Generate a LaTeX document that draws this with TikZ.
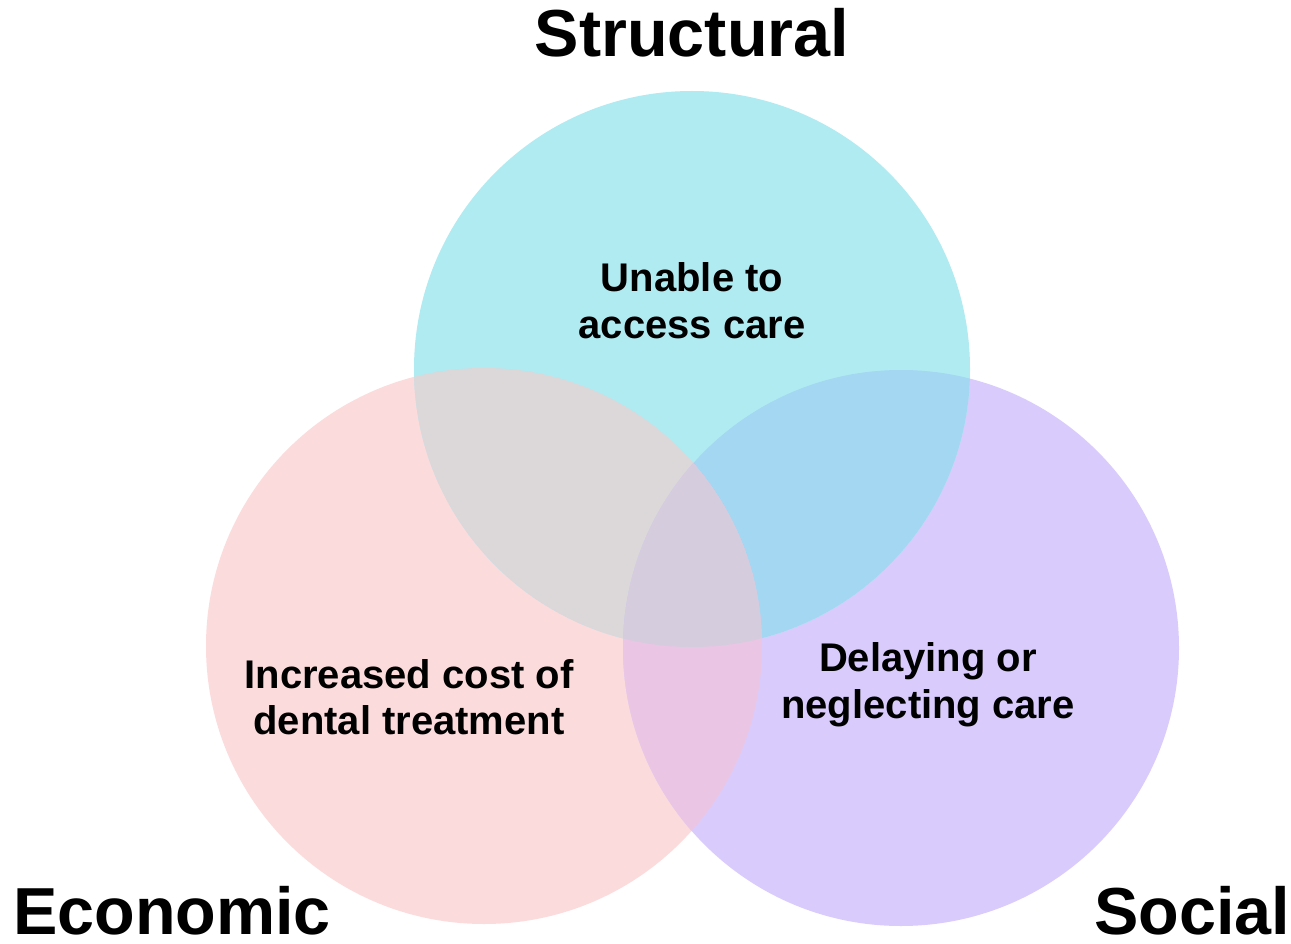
\documentclass[tikz,border=0pt]{standalone}
\usepackage{fontspec}
\setmainfont{Liberation Sans}
\definecolor{cT}{HTML}{B0EBF2}
\definecolor{cL}{HTML}{FCDBDC}
\definecolor{cR}{HTML}{D9CCFC}
\definecolor{cTL}{HTML}{DCD7D9}
\definecolor{cTR}{HTML}{A3D7F2}
\definecolor{cLR}{HTML}{EAC6E4}
\definecolor{cC}{HTML}{D5CCDE}
\tikzset{
  title/.style={font=\fontsize{66.5}{72}\selectfont\bfseries, anchor=base, inner sep=0pt},
  inner/.style={font=\fontsize{40}{46}\selectfont\bfseries, anchor=base, inner sep=0pt}
}
\begin{document}
\begin{tikzpicture}[x=1pt,y=-1pt]
\useasboundingbox (0,0) rectangle (1291,944);
\fill[white] (0,0) rectangle (1291,944);
\def\RR{278}
\coordinate (T) at (692,369);
\coordinate (L) at (484,646);
\coordinate (R) at (901,648);
% pure regions
\fill[cL] (L) circle[radius=\RR];
\fill[cR] (R) circle[radius=\RR];
\fill[cT] (T) circle[radius=\RR];
% pairwise overlaps
\begin{scope}
  \clip (T) circle[radius=\RR];
  \fill[cTL] (L) circle[radius=\RR];
\end{scope}
\begin{scope}
  \clip (T) circle[radius=\RR];
  \fill[cTR] (R) circle[radius=\RR];
\end{scope}
\begin{scope}
  \clip (L) circle[radius=\RR];
  \fill[cLR] (R) circle[radius=\RR];
\end{scope}
% triple overlap
\begin{scope}
  \clip (T) circle[radius=\RR];
  \clip (L) circle[radius=\RR];
  \fill[cC] (R) circle[radius=\RR];
\end{scope}
% titles
\node[title] (tS) at (692,57) {Structural};
\node[title] (tE) at (172,934) {Economic};
\node[title] (tSo) at (1192,934) {Social};
% inner texts
\node[inner] (u1) at (692,291) {Unable to};
\node[inner] (u2) at (692,338) {access care};
\node[inner] (i1) at (409,688) {Increased cost of};
\node[inner] (i2) at (409,734) {dental treatment};
\node[inner] (d1) at (928,671) {Delaying or};
\node[inner] (d2) at (928,718) {neglecting care};
\end{tikzpicture}
\end{document}
